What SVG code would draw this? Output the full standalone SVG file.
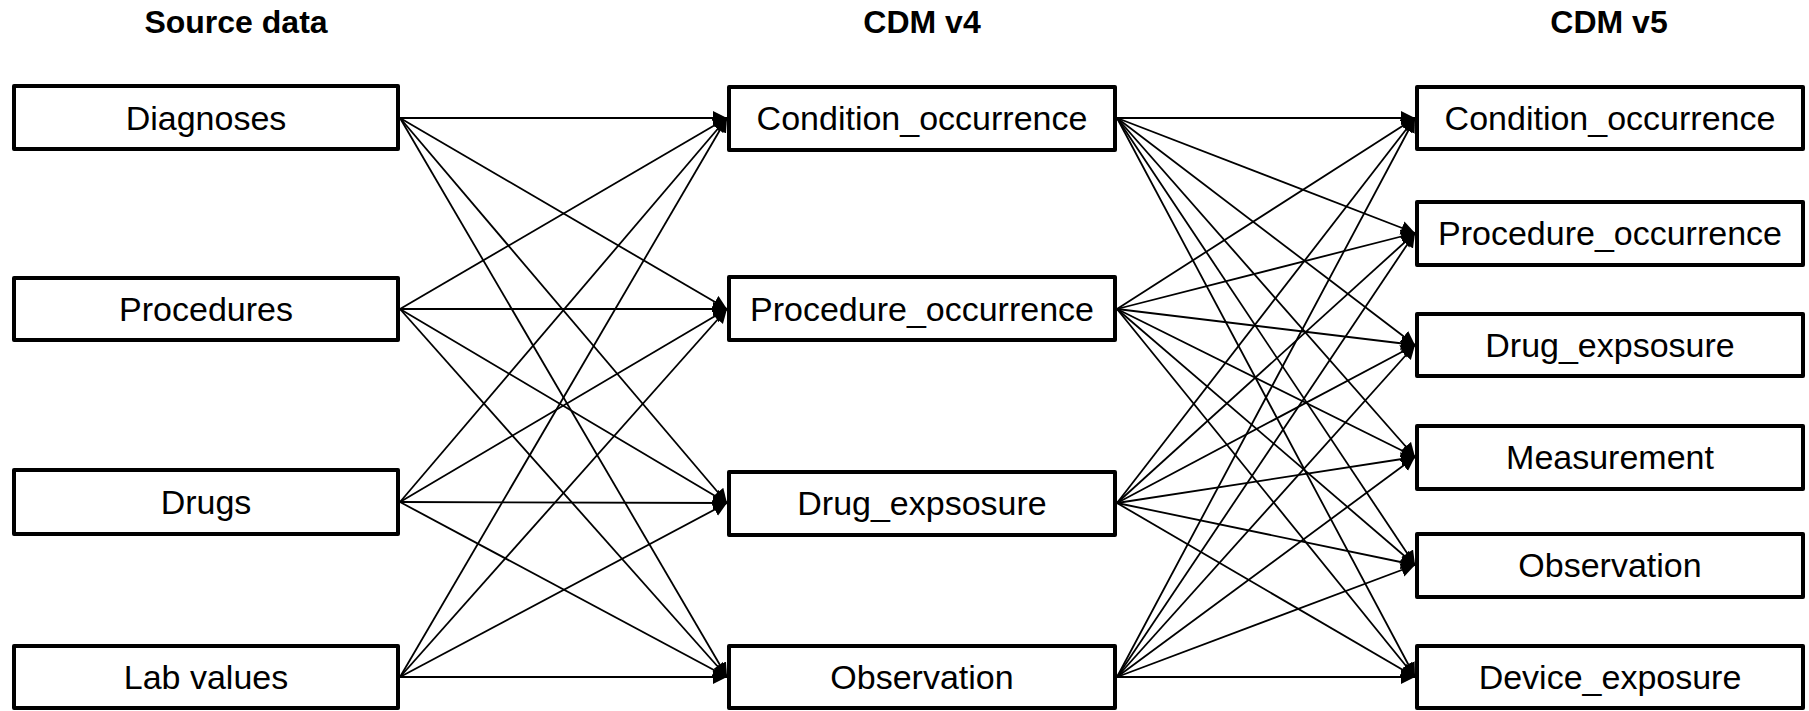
<svg xmlns="http://www.w3.org/2000/svg" width="1809" height="711" viewBox="0 0 1809 711">
  <style>
    .box { fill: #ffffff; stroke: #000000; stroke-width: 4; stroke-linejoin: round; }
    .lbl { font-family: "Liberation Sans", Arial, sans-serif; font-size: 34px; fill: #000000; text-anchor: middle; }
    .hdr { font-family: "Liberation Sans", Arial, sans-serif; font-size: 32px; font-weight: bold; fill: #000000; text-anchor: middle; }
    .edge { stroke: #000000; stroke-width: 1.8; fill: none; marker-end: url(#arrow); }
  </style>
  <defs>
    <marker id="arrow" markerUnits="userSpaceOnUse" markerWidth="15" markerHeight="15" refX="14" refY="7" orient="auto">
      <path d="M0,0 L14,7 L0,14 z" fill="#000000"/>
    </marker>
  </defs>
  <rect width="1809" height="711" fill="#ffffff"/>

  <!-- column headings -->
  <g id="headings">
    <text class="hdr" x="236" y="33">Source data</text>
    <text class="hdr" x="922" y="33">CDM v4</text>
    <text class="hdr" x="1609" y="33">CDM v5</text>
  </g>

  <!-- connectors: every source table to every v4 table, every v4 table to every v5 table -->
  <g id="connectors">
    <!-- Diagnoses -->
    <line class="edge" x1="400" y1="118" x2="727" y2="118"/>
    <line class="edge" x1="400" y1="118" x2="727" y2="309"/>
    <line class="edge" x1="400" y1="118" x2="727" y2="503"/>
    <line class="edge" x1="400" y1="118" x2="727" y2="677"/>
    <!-- Procedures -->
    <line class="edge" x1="400" y1="309" x2="727" y2="118"/>
    <line class="edge" x1="400" y1="309" x2="727" y2="309"/>
    <line class="edge" x1="400" y1="309" x2="727" y2="503"/>
    <line class="edge" x1="400" y1="309" x2="727" y2="677"/>
    <!-- Drugs -->
    <line class="edge" x1="400" y1="502" x2="727" y2="118"/>
    <line class="edge" x1="400" y1="502" x2="727" y2="309"/>
    <line class="edge" x1="400" y1="502" x2="727" y2="503"/>
    <line class="edge" x1="400" y1="502" x2="727" y2="677"/>
    <!-- Lab values -->
    <line class="edge" x1="400" y1="677" x2="727" y2="118"/>
    <line class="edge" x1="400" y1="677" x2="727" y2="309"/>
    <line class="edge" x1="400" y1="677" x2="727" y2="503"/>
    <line class="edge" x1="400" y1="677" x2="727" y2="677"/>

    <!-- v4 Condition_occurrence -->
    <line class="edge" x1="1117" y1="118" x2="1415" y2="118"/>
    <line class="edge" x1="1117" y1="118" x2="1415" y2="233"/>
    <line class="edge" x1="1117" y1="118" x2="1415" y2="345"/>
    <line class="edge" x1="1117" y1="118" x2="1415" y2="457"/>
    <line class="edge" x1="1117" y1="118" x2="1415" y2="565"/>
    <line class="edge" x1="1117" y1="118" x2="1415" y2="677"/>
    <!-- v4 Procedure_occurrence -->
    <line class="edge" x1="1117" y1="309" x2="1415" y2="118"/>
    <line class="edge" x1="1117" y1="309" x2="1415" y2="233"/>
    <line class="edge" x1="1117" y1="309" x2="1415" y2="345"/>
    <line class="edge" x1="1117" y1="309" x2="1415" y2="457"/>
    <line class="edge" x1="1117" y1="309" x2="1415" y2="565"/>
    <line class="edge" x1="1117" y1="309" x2="1415" y2="677"/>
    <!-- v4 Drug_expsosure -->
    <line class="edge" x1="1117" y1="503" x2="1415" y2="118"/>
    <line class="edge" x1="1117" y1="503" x2="1415" y2="233"/>
    <line class="edge" x1="1117" y1="503" x2="1415" y2="345"/>
    <line class="edge" x1="1117" y1="503" x2="1415" y2="457"/>
    <line class="edge" x1="1117" y1="503" x2="1415" y2="565"/>
    <line class="edge" x1="1117" y1="503" x2="1415" y2="677"/>
    <!-- v4 Observation -->
    <line class="edge" x1="1117" y1="677" x2="1415" y2="118"/>
    <line class="edge" x1="1117" y1="677" x2="1415" y2="233"/>
    <line class="edge" x1="1117" y1="677" x2="1415" y2="345"/>
    <line class="edge" x1="1117" y1="677" x2="1415" y2="457"/>
    <line class="edge" x1="1117" y1="677" x2="1415" y2="565"/>
    <line class="edge" x1="1117" y1="677" x2="1415" y2="677"/>
  </g>

  <!-- source data tables -->
  <g id="src-diagnoses">
    <rect class="box" x="14" y="86" width="384" height="63"/>
    <text class="lbl" x="206" y="130">Diagnoses</text>
  </g>
  <g id="src-procedures">
    <rect class="box" x="14" y="278" width="384" height="62"/>
    <text class="lbl" x="206" y="321">Procedures</text>
  </g>
  <g id="src-drugs">
    <rect class="box" x="14" y="470" width="384" height="64"/>
    <text class="lbl" x="206" y="514">Drugs</text>
  </g>
  <g id="src-lab-values">
    <rect class="box" x="14" y="646" width="384" height="62"/>
    <text class="lbl" x="206" y="689">Lab values</text>
  </g>

  <!-- CDM v4 tables -->
  <g id="v4-condition-occurrence">
    <rect class="box" x="729" y="87" width="386" height="63"/>
    <text class="lbl" x="922" y="130">Condition_occurrence</text>
  </g>
  <g id="v4-procedure-occurrence">
    <rect class="box" x="729" y="277" width="386" height="63"/>
    <text class="lbl" x="922" y="321">Procedure_occurrence</text>
  </g>
  <g id="v4-drug-expsosure">
    <rect class="box" x="729" y="472" width="386" height="63"/>
    <text class="lbl" x="922" y="515">Drug_expsosure</text>
  </g>
  <g id="v4-observation">
    <rect class="box" x="729" y="646" width="386" height="62"/>
    <text class="lbl" x="922" y="689">Observation</text>
  </g>

  <!-- CDM v5 tables -->
  <g id="v5-condition-occurrence">
    <rect class="box" x="1417" y="87" width="386" height="62"/>
    <text class="lbl" x="1610" y="130">Condition_occurrence</text>
  </g>
  <g id="v5-procedure-occurrence">
    <rect class="box" x="1417" y="202" width="386" height="63"/>
    <text class="lbl" x="1610" y="245">Procedure_occurrence</text>
  </g>
  <g id="v5-drug-expsosure">
    <rect class="box" x="1417" y="314" width="386" height="62"/>
    <text class="lbl" x="1610" y="357">Drug_expsosure</text>
  </g>
  <g id="v5-measurement">
    <rect class="box" x="1417" y="426" width="386" height="63"/>
    <text class="lbl" x="1610" y="469">Measurement</text>
  </g>
  <g id="v5-observation">
    <rect class="box" x="1417" y="534" width="386" height="63"/>
    <text class="lbl" x="1610" y="577">Observation</text>
  </g>
  <g id="v5-device-exposure">
    <rect class="box" x="1417" y="646" width="386" height="62"/>
    <text class="lbl" x="1610" y="689">Device_exposure</text>
  </g>
</svg>
